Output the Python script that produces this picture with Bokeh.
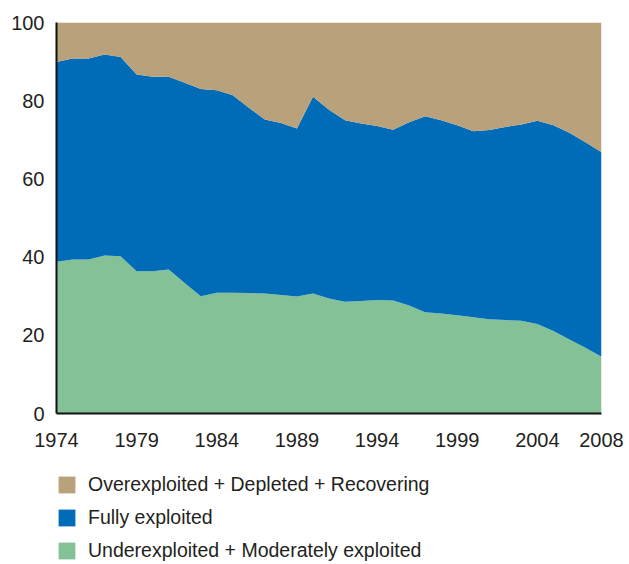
from bokeh.plotting import figure
from bokeh.layouts import column
from bokeh.models import Range1d, FixedTicker, Legend, LegendItem
from bokeh.embed import file_html
from bokeh.resources import INLINE

years = list(range(1974, 2009))
under = [38.8, 39.4, 39.4, 40.4, 40.2, 36.4, 36.4, 36.8, 33.4, 30.0, 30.9, 30.9, 30.8, 30.7, 30.3, 29.9, 30.7,
         29.4, 28.6, 28.8, 29.0, 28.9, 27.6, 25.9, 25.6, 25.1, 24.6, 24.1, 23.9, 23.7, 22.9, 21.1, 18.9, 16.8, 14.5]
fully = [51.1, 51.4, 51.4, 51.4, 51.0, 50.3, 49.7, 49.3, 51.2, 53.0, 51.8, 50.5, 47.4, 44.5, 44.0, 43.0, 50.3,
         48.3, 46.4, 45.4, 44.5, 43.7, 46.9, 50.1, 49.4, 48.6, 47.6, 48.4, 49.4, 50.2, 52.0, 52.6, 52.9, 52.6, 52.3]
over = [10.1, 9.2, 9.2, 8.2, 8.8, 13.3, 13.9, 13.9, 15.4, 17.0, 17.3, 18.6, 21.8, 24.8, 25.7, 27.1, 19.0,
        22.3, 25.0, 25.8, 26.5, 27.4, 25.5, 24.0, 25.0, 26.3, 27.8, 27.5, 26.7, 26.1, 25.1, 26.3, 28.2, 30.6, 33.2]
x_ticks = [1974, 1979, 1984, 1989, 1994, 1999, 2004, 2008]
y_ticks = [0, 20, 40, 60, 80, 100]
labels = ["Underexploited + Moderately exploited", "Fully exploited", "Overexploited + Depleted + Recovering"]
colors = ["#85C196", "#006BB6", "#B9A17B"]

FONT = "Liberation Sans"
TXT = "#231F20"

p = figure(output_backend="svg", toolbar_location=None,
           frame_width=545, frame_height=391,
           x_range=Range1d(1974, 2008), y_range=Range1d(0, 100),
           min_border_left=56, min_border_top=22, min_border_right=28, min_border_bottom=47)

src = dict(year=years, under=under, fully=fully, over=over)
rs = p.varea_stack(stackers=["under", "fully", "over"], x="year", color=colors, source=src)

p.xgrid.visible = False
p.ygrid.visible = False
p.outline_line_color = None
p.background_fill_color = "white"
p.border_fill_color = "white"

for ax in (p.xaxis[0], p.yaxis[0]):
    ax.major_tick_line_color = None
    ax.minor_tick_line_color = None
    ax.major_tick_out = 0
    ax.major_tick_in = 0
    ax.axis_line_color = "#111111"
    ax.axis_line_width = 2
    ax.major_label_text_font = FONT
    ax.major_label_text_font_size = "20px"
    ax.major_label_text_color = TXT

p.xaxis[0].ticker = FixedTicker(ticks=x_ticks)
p.yaxis[0].ticker = FixedTicker(ticks=y_ticks)
p.xaxis[0].major_label_standoff = 19
p.yaxis[0].major_label_standoff = 12

# legend panel below the chart
p2 = figure(output_backend="svg", toolbar_location=None, width=629, height=102,
            x_range=Range1d(0, 1), y_range=Range1d(0, 1),
            min_border=0, outline_line_color=None)
p2.axis.visible = False
p2.xgrid.visible = False
p2.ygrid.visible = False
lr = [p2.block(x=[0], y=[0], width=0, height=0, fill_color=c, line_color=None) for c in colors]

items = [LegendItem(label=labels[2], renderers=[lr[2]]),
         LegendItem(label=labels[1], renderers=[lr[1]]),
         LegendItem(label=labels[0], renderers=[lr[0]])]
legend = Legend(items=items, orientation="vertical", location=(0, 0),
                label_text_font=FONT, label_text_font_size="19.5px", label_text_color=TXT,
                glyph_width=21, glyph_height=21, label_height=21, spacing=10,
                label_standoff=11, padding=0, margin=0,
                border_line_color=None, background_fill_alpha=0)
p2.add_layout(legend, "center")

layout = column(p, p2, spacing=0)
open("out.html", "w").write(file_html(layout, INLINE))
